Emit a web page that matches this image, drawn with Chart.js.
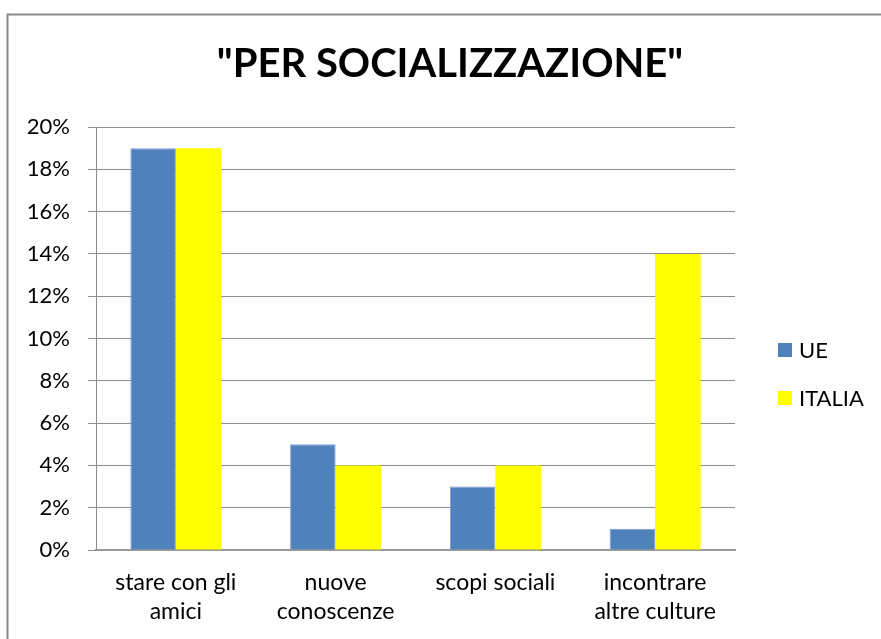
<!DOCTYPE html>
<html>
<head>
<meta charset="utf-8">
<script src="https://cdn.jsdelivr.net/npm/chart.js@4"></script>
<style>
  html, body { margin: 0; padding: 0; background: #ffffff; }
  #wrap { width: 881px; height: 639px; position: relative; }
</style>
</head>
<body>
<div id="wrap"><canvas id="chart" width="881" height="639"></canvas></div>
<script>
// Categories (multi-line labels) and series values, in percent
const categories = [
  ['stare con gli', 'amici'],
  ['nuove', 'conoscenze'],
  ['scopi sociali'],
  ['incontrare', 'altre culture']
];
const seriesNames = ['UE', 'ITALIA'];
const ueValues = [19, 5, 3, 1];
const italiaValues = [19, 4, 4, 14];
const yTicks = [0, 2, 4, 6, 8, 10, 12, 14, 16, 18, 20];
const chartTitle = '"PER SOCIALIZZAZIONE"';

const FONT = 'Lato, "Open Sans", sans-serif';
const GRID = '#8c8c8c';

// Frame, title and legend drawn on the canvas
const decor = {
  id: 'decor',
  afterDraw(chart) {
    const ctx = chart.ctx;
    ctx.save();
    // outer frame (open at right and bottom)
    ctx.strokeStyle = '#8a8a8a';
    ctx.lineWidth = 2;
    ctx.beginPath();
    ctx.moveTo(7.5, 639);
    ctx.lineTo(7.5, 14.5);
    ctx.lineTo(881, 14.5);
    ctx.stroke();

    // title
    ctx.fillStyle = '#000000';
    ctx.font = 'bold 40px ' + FONT;
    ctx.textAlign = 'center';
    ctx.textBaseline = 'middle';
    ctx.fillText(chartTitle, 450, 64);

    // legend
    ctx.font = '22px ' + FONT;
    ctx.textAlign = 'left';
    const startY = 350, stepY = 48;
    chart.data.datasets.forEach((ds, i) => {
      const y = startY + i * stepY;
      ctx.fillStyle = ds.backgroundColor;
      ctx.fillRect(778, y - 7, 14, 14);
      ctx.fillStyle = '#000000';
      ctx.fillText(ds.label, 799, y + 1);
    });
    ctx.restore();
  }
};

new Chart(document.getElementById('chart'), {
  type: 'bar',
  data: {
    labels: categories,
    datasets: [
      {
        label: seriesNames[0],
        data: ueValues,
        backgroundColor: '#4f81bd',
        borderColor: '#7aa0d4',
        borderWidth: 1,
        categoryPercentage: 0.57,
        barPercentage: 1.0
      },
      {
        label: seriesNames[1],
        data: italiaValues,
        backgroundColor: '#ffff00',
        borderWidth: 0,
        categoryPercentage: 0.57,
        barPercentage: 1.0
      }
    ]
  },
  options: {
    responsive: false,
    animation: false,
    events: [],
    layout: { padding: { top: 127, left: 20, right: 146, bottom: 0 } },
    plugins: {
      legend: { display: false },
      title: { display: false },
      tooltip: { enabled: false }
    },
    scales: {
      x: {
        grid: { display: false, drawTicks: false },
        border: { display: true, color: '#999999', width: 2 },
        ticks: {
          color: '#000000',
          font: { family: FONT, size: 23, lineHeight: 1.26 },
          padding: 18,
          maxRotation: 0,
          autoSkip: false
        },
        afterFit(scale) { scale.height = 89; }
      },
      y: {
        min: 0,
        max: 20,
        afterBuildTicks(scale) {
          scale.ticks = yTicks.map(v => ({ value: v }));
        },
        grid: { color: GRID, lineWidth: 1, tickLength: 8, drawTicks: true },
        border: { display: true, color: GRID, width: 1 },
        ticks: {
          color: '#000000',
          font: { family: FONT, size: 22 },
          padding: 18,
          callback: v => v + '%'
        },
        afterFit(scale) { scale.width = 76; }
      }
    }
  },
  plugins: [decor]
});
</script>
</body>
</html>
